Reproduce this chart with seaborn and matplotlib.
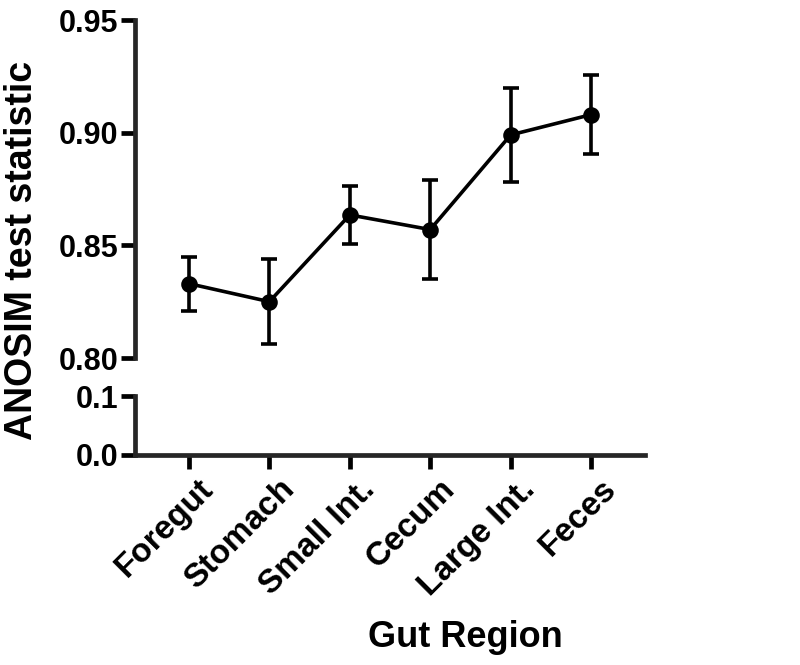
import numpy as np
import pandas as pd
import matplotlib
matplotlib.use("Agg")
import matplotlib.pyplot as plt
import matplotlib.transforms as mtransforms
import seaborn as sns

regions = ["Foregut", "Stomach", "Small Int.", "Cecum", "Large Int.", "Feces"]
anosim_r = [0.833, 0.825, 0.8635, 0.857, 0.899, 0.908]
anosim_err = [0.012, 0.019, 0.013, 0.022, 0.021, 0.0176]

top_ticks = [0.80, 0.85, 0.90, 0.95]
bottom_ticks = [0.0, 0.1]

sns.set_theme(style="ticks")
plt.rcParams["font.family"] = ["Liberation Sans", "DejaVu Sans"]
plt.rcParams["font.weight"] = "bold"
plt.rcParams["text.color"] = "black"

df = pd.DataFrame({"region": regions, "r": anosim_r, "err": anosim_err})

fig = plt.figure(figsize=(8, 6.65), dpi=100)
ax_top = fig.add_axes([135 / 800, 1 - 358 / 665, 510 / 800, 338 / 665])
ax_bot = fig.add_axes([135 / 800, 1 - 455 / 665, 510 / 800, 59 / 665])

sns.pointplot(data=df, x="region", y="r", color="black", errorbar=None,
              markersize=10, linewidth=2.6, ax=ax_top)
ax_top.errorbar(np.arange(len(regions)), df["r"], yerr=df["err"], fmt="none",
                ecolor="black", elinewidth=2.6, capsize=6, capthick=2.6)

lw = 3.4
xlim = (-0.67, len(regions) - 1 + 0.67)
for ax in (ax_top, ax_bot):
    ax.set_xlim(*xlim)
    ax.set_facecolor("white")
    for s in ("top", "right"):
        ax.spines[s].set_visible(False)
    ax.spines["left"].set_linewidth(lw)
    ax.spines["bottom"].set_linewidth(lw)
    ax.tick_params(axis="both", width=lw, length=10, direction="out",
                   labelsize=22, colors="black", pad=2)
    ax.set_xlabel("")
    ax.set_ylabel("")

ax_top.set_ylim(0.80, 0.95)
ax_top.set_yticks(top_ticks)
ax_top.set_yticklabels([f"{t:.2f}" for t in top_ticks], fontweight="bold")
ax_top.spines["bottom"].set_visible(False)
ax_top.tick_params(axis="x", bottom=False, labelbottom=False)

ax_bot.set_ylim(0.0, 0.1)
ax_bot.set_yticks(bottom_ticks)
ax_bot.set_yticklabels([f"{t:.1f}" for t in bottom_ticks], fontweight="bold")
ax_bot.set_xticks(np.arange(len(regions)))
ax_bot.set_xticklabels(regions, rotation=45, ha="right", va="top",
                       rotation_mode="anchor", fontweight="bold", fontsize=24)
shift = mtransforms.ScaledTranslation(9 / 100, -2 / 100, fig.dpi_scale_trans)
for lab in ax_bot.get_xticklabels():
    lab.set_transform(lab.get_transform() + shift)

fig.text(22 / 800, 1 - 250 / 665, "ANOSIM test statistic", rotation=90,
         ha="center", va="center", fontsize=27, fontweight="bold", color="black")
fig.text(465 / 800, 1 - 647 / 665, "Gut Region", ha="center", va="baseline",
         fontsize=26, fontweight="bold", color="black")

fig.savefig("out.png", dpi=100, facecolor="white")
